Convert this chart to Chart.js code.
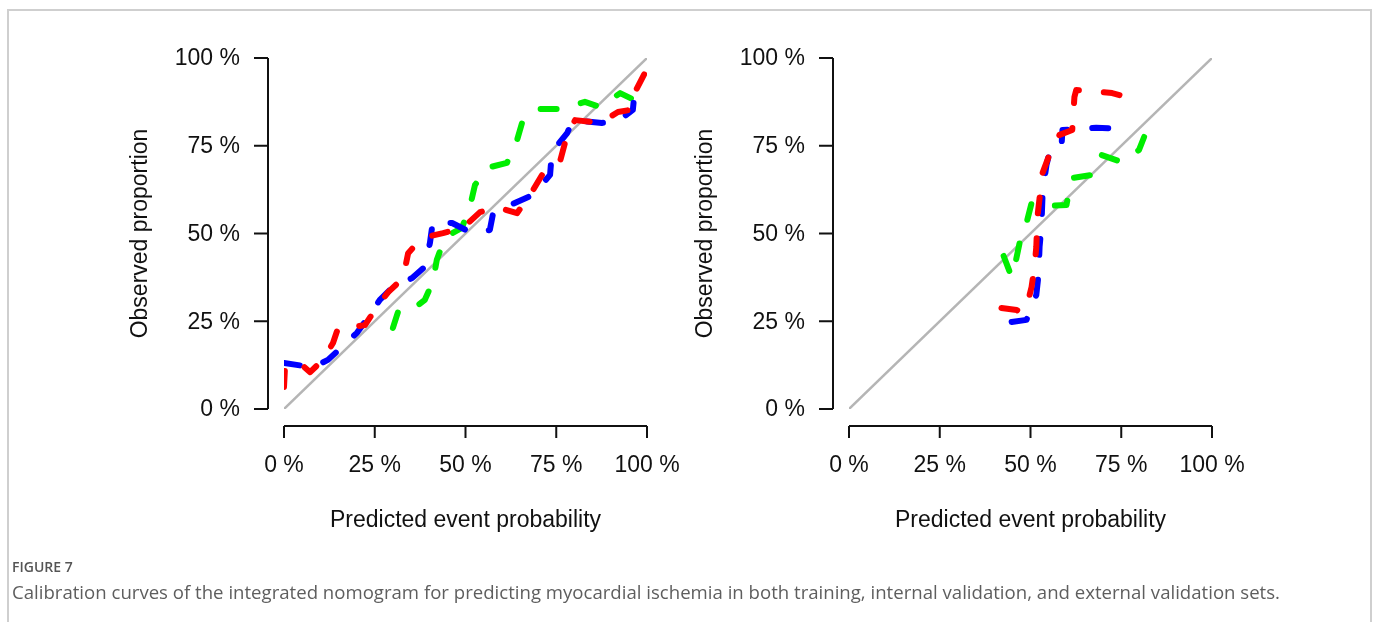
<!DOCTYPE html>
<html>
<head>
<meta charset="utf-8">
<script src="https://cdn.jsdelivr.net/npm/chart.js@4/dist/chart.umd.min.js"></script>
<style>
    body { margin: 0; background: #fff; width: 1378px; height: 622px; overflow: hidden; position: relative; }
    .frame { position: absolute; left: 7px; top: 9px; width: 1361px; height: 700px; border: 2px solid #cfcfcf; }
    canvas { position: absolute; top: 0; }
    #left-chart { left: 0; }
    #right-chart { left: 565px; }
    .fig-label { position: absolute; left: 12px; top: 557px; font: 600 14px "Open Sans", sans-serif; color: #555; }
    .fig-caption { position: absolute; left: 12px; top: 579px; font: 18.6px "Open Sans", sans-serif; color: #5e5e5e; white-space: nowrap; }
</style>
</head>
<body>
<div class="frame"></div>
<canvas id="left-chart" width="689" height="622"></canvas>
<canvas id="right-chart" width="689" height="622"></canvas>
<div class="fig-label">FIGURE 7</div>
<div class="fig-caption">Calibration curves of the integrated nomogram for predicting myocardial ischemia in both training, internal validation, and external validation sets.</div>
<script>
// axis ticks
const tickValues = [0, 25, 50, 75, 100];
const tickLabels = ['0 %', '25 %', '50 %', '75 %', '100 %'];
const xTitle = 'Predicted event probability';
const yTitle = 'Observed proportion';

// ideal line
const idealX = [0, 100];
const idealY = [0, 100];

// left panel (training / internal validation)
const leftRedX = [0, 0.3, 5.2, 7.2, 10.7, 13.5, 14.9, 16.8, 22.3, 25.6, 28.7, 32.8, 34.2, 38.0, 43.8, 49.3, 54.0, 58.7, 64.2, 67.8, 71.1, 76.0, 78.2, 80.2, 87.1, 92.0, 95.3, 96.7, 99.4, 100];
const leftRedY = [6.3, 12.3, 12.3, 10.5, 14.0, 18.8, 23.1, 23.1, 23.9, 29.1, 33.3, 37.3, 44.4, 48.7, 50.1, 51.6, 56.1, 57.5, 55.8, 61.0, 66.7, 70.4, 78.9, 82.3, 81.5, 84.6, 85.2, 90.3, 95.7, 100];
const leftBlueX = [0, 5.2, 7.7, 12.1, 16.0, 20.1, 23.7, 26.4, 30.0, 35.3, 38.8, 40.2, 41.0, 46.3, 51.8, 56.7, 57.6, 64.2, 68.6, 73.3, 73.8, 78.0, 79.6, 87.6, 91.7, 96.1, 96.7];
const leftBlueY = [13.1, 12.3, 11.7, 14.0, 17.7, 21.7, 26.8, 31.1, 34.8, 37.3, 40.5, 47.3, 53.3, 53.0, 50.1, 51.0, 55.8, 59.0, 61.0, 66.7, 73.2, 78.6, 82.3, 81.5, 81.8, 85.2, 91.5];
const leftGreenX = [30.0, 31.4, 34.2, 38.8, 41.0, 42.1, 44.4, 49.0, 51.2, 52.6, 55.9, 61.4, 64.2, 65.8, 70.0, 76.9, 82.9, 87.1, 92.6, 98.1];
const leftGreenY = [23.1, 27.6, 27.4, 31.1, 36.2, 42.5, 49.0, 51.6, 57.5, 63.8, 68.7, 70.1, 76.6, 82.3, 85.5, 85.5, 87.5, 86.0, 90.0, 87.2];

// right panel (external validation)
const rightRedX = [42.0, 46.2, 47.5, 49.2, 50.3, 51.1, 51.6, 51.9, 52.5, 53.3, 55.2, 58.0, 61.5, 62.1, 62.6, 66.2, 72.5, 78.6];
const rightRedY = [28.8, 28.2, 27.4, 30.2, 34.8, 40.5, 46.2, 54.7, 60.1, 67.2, 72.4, 78.1, 79.5, 88.9, 90.9, 90.6, 90.0, 88.3];
const rightBlueX = [44.8, 48.9, 49.7, 51.6, 52.2, 52.5, 53.0, 53.3, 53.8, 54.4, 55.2, 58.5, 58.8, 68.1, 77.7];
const rightBlueY = [24.8, 25.4, 27.4, 32.5, 38.2, 46.2, 51.9, 60.4, 65.2, 69.5, 72.9, 74.1, 79.5, 80.1, 79.8];
const rightGreenX = [42.6, 44.8, 45.9, 47.0, 48.9, 50.3, 53.8, 59.9, 60.7, 61.5, 67.0, 69.5, 75.0, 79.9, 81.3];
const rightGreenY = [43.6, 37.6, 41.9, 47.3, 53.0, 58.7, 57.8, 58.1, 62.4, 65.8, 66.7, 72.4, 70.4, 73.8, 77.5];

function toPoints(xs, ys) {
    return xs.map((x, i) => ({ x: x, y: ys[i] }));
}

function curve(xs, ys, color) {
    return {
        data: toPoints(xs, ys),
        borderColor: color,
        borderWidth: 6,
        borderDash: [16, 25],
        borderCapStyle: 'round',
        borderJoinStyle: 'round',
        pointRadius: 0,
        tension: 0
    };
}

const axisFont = '23px "Liberation Sans", Arial, sans-serif';

// R style axes, detached from the plot region
const rAxes = {
    id: 'rAxes',
    afterDraw(chart) {
        const c = chart.ctx;
        const area = chart.chartArea;
        const xs = chart.scales.x;
        const ys = chart.scales.y;
        const axisX = area.left - 16;
        const axisY = area.bottom + 17;
        c.save();
        c.strokeStyle = '#111';
        c.fillStyle = '#111';
        c.lineWidth = 2;
        c.font = axisFont;

        // y axis
        c.beginPath();
        c.moveTo(axisX, ys.getPixelForValue(tickValues[0]));
        c.lineTo(axisX, ys.getPixelForValue(tickValues[tickValues.length - 1]));
        tickValues.forEach(v => {
            const py = ys.getPixelForValue(v);
            c.moveTo(axisX, py);
            c.lineTo(axisX - 14, py);
        });
        c.stroke();
        c.textAlign = 'right';
        c.textBaseline = 'middle';
        tickValues.forEach((v, i) => {
            c.fillText(tickLabels[i], axisX - 28, ys.getPixelForValue(v) + 1);
        });

        // x axis
        c.beginPath();
        c.moveTo(xs.getPixelForValue(tickValues[0]), axisY);
        c.lineTo(xs.getPixelForValue(tickValues[tickValues.length - 1]), axisY);
        tickValues.forEach(v => {
            const px = xs.getPixelForValue(v);
            c.moveTo(px, axisY);
            c.lineTo(px, axisY + 12);
        });
        c.stroke();
        c.textAlign = 'center';
        c.textBaseline = 'alphabetic';
        tickValues.forEach((v, i) => {
            c.fillText(tickLabels[i], xs.getPixelForValue(v), 472);
        });

        // titles
        c.fillText(xTitle, (area.left + area.right) / 2, 527);
        c.save();
        c.translate(area.left - 137, (area.top + area.bottom) / 2);
        c.rotate(-Math.PI / 2);
        c.fillText(yTitle, 0, 0);
        c.restore();
        c.restore();
    }
};

function makeChart(id, red, blue, green) {
    const ctx = document.getElementById(id).getContext('2d');
    return new Chart(ctx, {
        type: 'line',
        data: {
            datasets: [
                curve(red[0], red[1], '#ff0000'),
                curve(blue[0], blue[1], '#0000ff'),
                curve(green[0], green[1], '#00ee00'),
                {
                    data: toPoints(idealX, idealY),
                    borderColor: '#b5b5b5',
                    borderWidth: 2.5,
                    pointRadius: 0,
                    tension: 0
                }
            ]
        },
        options: {
            responsive: false,
            animation: false,
            devicePixelRatio: 1,
            layout: { padding: { left: 284, right: 42, top: 58, bottom: 213 } },
            scales: {
                x: { type: 'linear', min: 0, max: 100, display: false },
                y: { type: 'linear', min: 0, max: 100, display: false }
            },
            plugins: {
                legend: { display: false },
                tooltip: { enabled: false }
            }
        },
        plugins: [rAxes]
    });
}

makeChart('left-chart', [leftRedX, leftRedY], [leftBlueX, leftBlueY], [leftGreenX, leftGreenY]);
makeChart('right-chart', [rightRedX, rightRedY], [rightBlueX, rightBlueY], [rightGreenX, rightGreenY]);
</script>
</body>
</html>
